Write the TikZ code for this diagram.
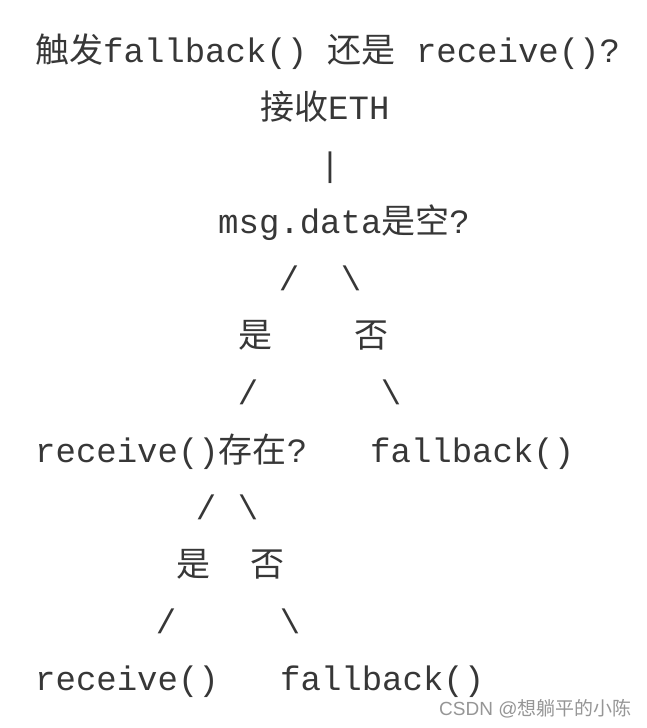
\documentclass[tikz,border=0pt]{standalone}
\usepackage{fontspec}
\setmonofont{Liberation Mono}
\newfontfamily\cjkf{Noto Sans CJK SC}
\newfontfamily\wmlat{Liberation Sans}
\newcommand{\cj}[1]{{\cjkf #1}}
\definecolor{ink}{RGB}{55,55,55}
\definecolor{wmgray}{RGB}{150,150,150}
\begin{document}
\begin{tikzpicture}[x=1pt,y=-1pt,
  every node/.style={inner sep=0pt, text=ink, font=\ttfamily\fontsize{34}{34}\selectfont},
  lbl/.style={anchor=base west},
  glyph/.style={anchor=base}]
\useasboundingbox[fill=white] (0,0) rectangle (646,728);
\node[lbl] (q) at (35,62.3) {\cj{触发}fallback() \cj{还是} receive()?};
\node[lbl] (eth) at (260,119.4) {\cj{接收}ETH};
\node[glyph] (bar) at (330,176.5) {|};
\node[lbl] (msg) at (218,233.6) {msg.data\cj{是空}?};
\node[glyph] (s1) at (289,290.7) {/};
\node[glyph] (b1) at (351,290.7) {\textbackslash};
\node[glyph] (yes1) at (255,347.8) {\cj{是}};
\node[glyph] (no1) at (371,347.8) {\cj{否}};
\node[glyph] (s2) at (248,404.9) {/};
\node[glyph] (b2) at (391,404.9) {\textbackslash};
\node[lbl] (recq) at (35,462) {receive()\cj{存在}?};
\node[lbl] (fb1) at (370,462) {fallback()};
\node[glyph] (s3) at (206,519.1) {/};
\node[glyph] (b3) at (248,519.1) {\textbackslash};
\node[glyph] (yes2) at (193,576.2) {\cj{是}};
\node[glyph] (no2) at (267,576.2) {\cj{否}};
\node[glyph] (s4) at (166,633.3) {/};
\node[glyph] (b4) at (290,633.3) {\textbackslash};
\node[lbl] (rec) at (35,690.4) {receive()};
\node[lbl] (fb2) at (280,690.4) {fallback()};
\node[anchor=base west, text=wmgray, font=\wmlat\fontsize{19}{19}\selectfont] (wm) at (439,715) {CSDN @\cj{想躺平的小陈}};
\end{tikzpicture}
\end{document}
